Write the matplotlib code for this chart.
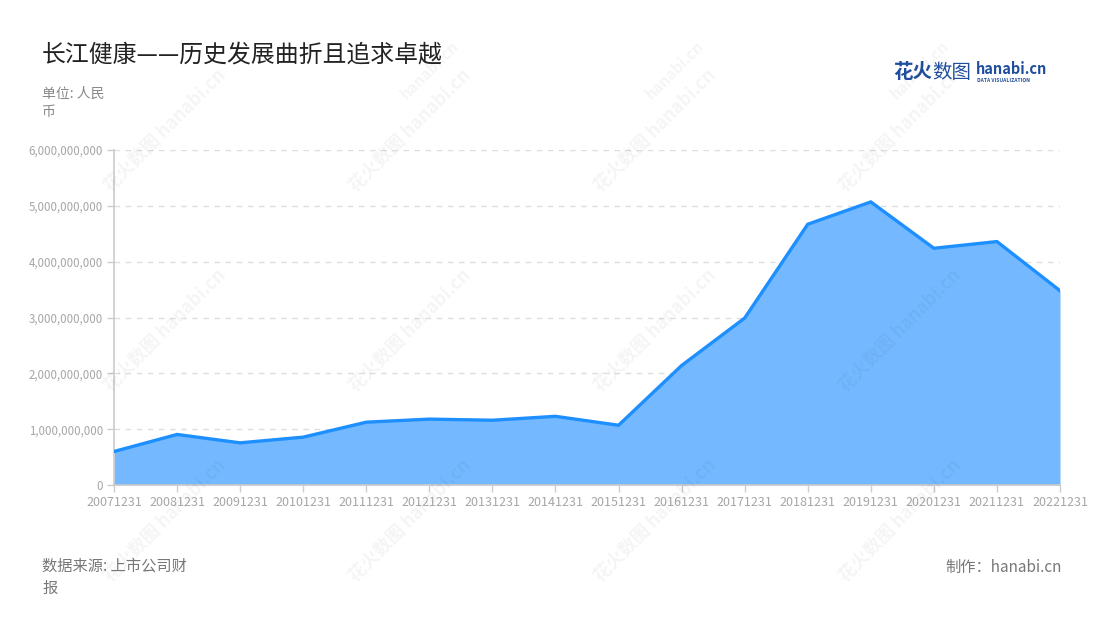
import matplotlib
matplotlib.use("Agg")
import matplotlib.pyplot as plt
from matplotlib.ticker import FuncFormatter, MultipleLocator

plt.rcParams['font.family'] = ['Noto Sans CJK SC', 'DejaVu Sans']

years = ["20071231", "20081231", "20091231", "20101231", "20111231", "20121231",
         "20131231", "20141231", "20151231", "20161231", "20171231", "20181231",
         "20191231", "20201231", "20211231", "20221231"]
values = [0.60e9, 0.905e9, 0.755e9, 0.857e9, 1.125e9, 1.18e9,
          1.16e9, 1.23e9, 1.07e9, 2.14e9, 2.99e9, 4.67e9,
          5.07e9, 4.24e9, 4.36e9, 3.48e9]

title = "长江健康——历史发展曲折且追求卓越"
unit = "单位: 人民\n币"
source = "数据来源: 上市公司财\n报"
credit = "制作：hanabi.cn"

fig = plt.figure(figsize=(11, 6.2), dpi=100)
ax = fig.add_axes([114/1100, 1-485/620, (1060-114)/1100, (485-150)/620])

x = list(range(len(years)))
ax.fill_between(x, values, 0, color='#74B9FF', linewidth=0, zorder=2)
ax.plot(x, values, color='#1E8FFF', linewidth=2.4, zorder=3, solid_joinstyle='miter')

ax.set_xlim(0, len(years)-1)
ax.set_ylim(0, 6e9)
ax.yaxis.set_major_locator(MultipleLocator(1e9))
ax.yaxis.set_major_formatter(FuncFormatter(lambda v, p: f"{int(v):,}"))
ax.set_xticks(x)
ax.set_xticklabels(years)
ax.grid(axis='y', color='#dddddd', linestyle=(0, (4, 4)), linewidth=1, zorder=1)
ax.set_axisbelow(True)
for s in ['top', 'right']:
    ax.spines[s].set_visible(False)
ax.spines['left'].set_color('#cccccc')
ax.spines['left'].set_linewidth(1.2)
ax.spines['bottom'].set_color('#cccccc')
ax.spines['bottom'].set_linewidth(1.2)
ax.tick_params(axis='both', colors='#cccccc', labelcolor='#a6a6a6', labelsize=9,
               length=5, width=1)
ax.tick_params(axis='y', labelsize=8.3, pad=3)
ax.tick_params(axis='x', pad=3)

# watermarks
for wx in [165, 410, 655, 900]:
    for wy in [130, 330, 520]:
        fig.text(wx/1100, 1-wy/620, "花火数图 hanabi.cn", rotation=45,
                 fontsize=13, color='#000000', alpha=0.045, ha='center', va='center',
                 fontweight='bold', zorder=0)
for wx in [430, 675, 920]:
    fig.text(wx/1100, 1-70/620, "hanabi.cn", rotation=45,
             fontsize=11, color='#000000', alpha=0.045, ha='center', va='center',
             fontweight='bold')

fig.text(42/1100, 1-55/620, title, fontsize=17.2, color='#222222', ha='left', va='center')
fig.text(42/1100, 1-87/620, unit, fontsize=10, color='#888888', ha='left', va='top',
         linespacing=1.4)
fig.text(42/1100, 1-558/620, source, fontsize=11, color='#777777', ha='left', va='top',
         linespacing=1.4)
fig.text(1062/1100, 1-567/620, credit, fontsize=11, color='#777777', ha='right', va='center')

# logo
fig.text(893/1100, 1-72/620, "花火", fontsize=14, color='#1f4e9c', ha='left', va='center',
         fontweight='bold')
fig.text(932/1100, 1-72/620, "数图", fontsize=14, color='#1f4e9c', ha='left', va='center')
fig.text(976/1100, 1-69/620, "hanabi.cn", fontsize=10.5, color='#1f4e9c', ha='left', va='center',
         fontweight='bold')
fig.text(977/1100, 1-80/620, "DATA VISUALIZATION", fontsize=3.6, color='#1f4e9c', ha='left',
         va='center', fontweight='bold')

fig.savefig("out.png", dpi=100)
